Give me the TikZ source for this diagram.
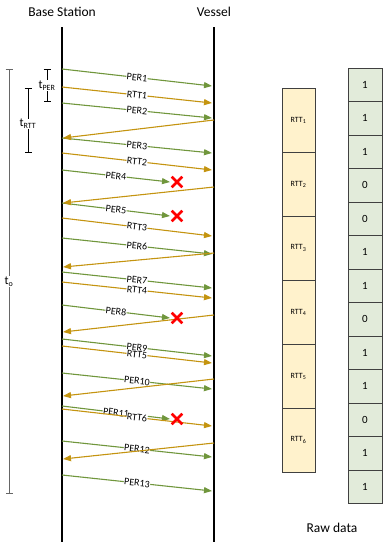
\documentclass[tikz,border=0pt]{standalone}
\usepackage{fontspec}
\setmainfont{Carlito}
\usepackage{tikz}
\usetikzlibrary{arrows.meta,shapes.misc}

\definecolor{pergreen}{RGB}{112,150,60}
\definecolor{rttgold}{RGB}{196,148,16}
\definecolor{rttfill}{RGB}{255,242,204}
\definecolor{rawfill}{RGB}{226,235,218}

\begin{document}
\begin{tikzpicture}[x=1pt,y=-1pt,
  per/.style={draw=pergreen,line width=1.1pt,-{Triangle[length=8pt,width=6pt]}},
  rtt/.style={draw=rttgold,line width=1.1pt,-{Triangle[length=8pt,width=6pt]}},
  msglabel/.style={font=\fontsize{10}{11}\selectfont,fill=white,inner sep=0.4pt,sloped,midway},
  lifeline/.style={line width=2.6pt},
  span/.style={line width=0.8pt,{Bar[width=7pt]}-{Bar[width=7pt]}},
  lost/.style={cross out,draw=red,line width=2.6pt,minimum size=8pt,inner sep=0pt},
  rttcell/.style={draw=black!75,fill=rttfill,line width=0.8pt,minimum width=33pt,minimum height=64pt,font=\fontsize{8}{9}\selectfont},
  rawcell/.style={draw=black!75,fill=rawfill,line width=0.8pt,minimum width=34pt,minimum height=33.5pt,font=\fontsize{11}{12}\selectfont}]
  \useasboundingbox (0,0) rectangle (387,550); % page frame
  \node[font=\fontsize{13.5}{15}\selectfont] (bs) at (62,12) {Base Station}; % left title
  \node[font=\fontsize{13.5}{15}\selectfont] (vs) at (214,12) {Vessel}; % right title
  \coordinate (bsTop) at (62,27); \coordinate (bsBot) at (62,542); % base station line ends
  \coordinate (vsTop) at (214,27); \coordinate (vsBot) at (214,542); % vessel line ends
  \draw[lifeline] (bsTop) -- (bsBot); % base station time line
  \draw[lifeline] (vsTop) -- (vsBot); % vessel time line
  % messages from the base station (order keeps label overlaps)
  \foreach \i/\ya/\xb/\yb/\s/\l in {1/69/212/86/per/PER1, 2/87/212/103/rtt/RTT1, 3/103/212/118/per/PER2,
      4/138/212/153/per/PER3, 5/153/212/170/rtt/RTT2, 6/170/170/182/per/PER4, 7/203/170/216/per/PER5,
      8/218/212/236/rtt/RTT3, 9/238/212/254/per/PER6, 10/282/212/298/rtt/RTT4, 11/272/212/288/per/PER7,
      12/305/170/318/per/PER8, 13/339/212/356/per/PER9, 14/346/212/363/rtt/RTT5, 15/373/212/389/per/PER10,
      16/406/170/419/per/PER11, 17/409/212/426/rtt/RTT6, 18/441/212/457/per/PER12, 19/475/212/491/per/PER13}{
    \coordinate (s\i) at (62,\ya); \coordinate (e\i) at (\xb,\yb);
    \draw[\s] (s\i) -- node[msglabel] {\l} (e\i);
  }
  % replies from the vessel
  \foreach \i/\ya/\yb in {1/120/138, 2/187/203, 3/253/267, 4/315/332, 5/379/396, 6/443/459}{
    \coordinate (rs\i) at (214,\ya); \coordinate (re\i) at (63,\yb);
    \draw[rtt] (rs\i) -- (re\i);
  }
  \foreach \i/\y in {1/182, 2/216, 3/318, 4/419}{
    \node[lost] (x\i) at (177,\y) {}; % lost packet
  }
  % time spans on the left
  \coordinate (tpA) at (47,69); \coordinate (tpB) at (47,102);
  \draw[span] (tpA) -- node[fill=white,inner sep=0.5pt,font=\fontsize{12}{13}\selectfont] (tper) {t\textsubscript{PER}} (tpB);
  \coordinate (trA) at (28,88); \coordinate (trB) at (28,153);
  \draw[span] (trA) -- node[fill=white,inner sep=0.5pt,font=\fontsize{12}{13}\selectfont,pos=0.55] (trtt) {t\textsubscript{RTT}} (trB);
  \coordinate (toA) at (9,69); \coordinate (toB) at (9,494);
  \draw[span,draw=black!60] (toA) -- node[fill=white,inner sep=0.5pt,font=\fontsize{12}{13}\selectfont,pos=0.50] (to) {t\textsubscript{o}} (toB);
  % RTT blocks
  \foreach \k in {1,...,6}{
    \node[rttcell] (rtt\k) at (298.5,{88+32+(\k-1)*64}) {RTT\textsubscript{\k}};
  }
  % raw data bits
  \foreach \v [count=\k] in {1,1,1,0,0,1,1,0,1,1,0,1,1}{
    \node[rawcell] (raw\k) at (365,{68+16.75+(\k-1)*33.5}) {\v};
  }
  \node[font=\fontsize{13.5}{15}\selectfont] (rawlbl) at (332,528) {Raw data}; % column caption
\end{tikzpicture}
\end{document}
